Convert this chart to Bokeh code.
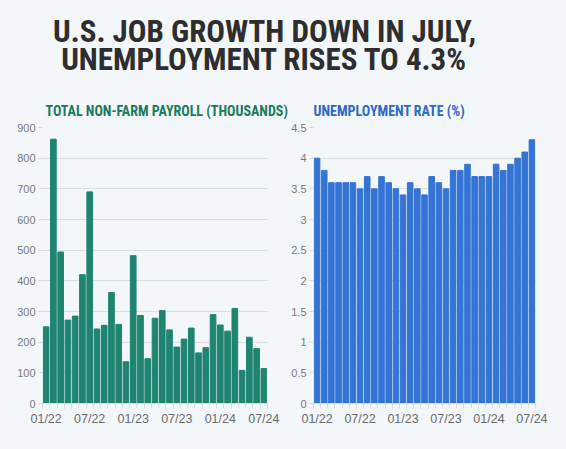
from bokeh.plotting import figure
from bokeh.layouts import column, row
from bokeh.models import Range1d, FixedTicker, ColumnDataSource
from bokeh.core.properties import value
from bokeh.embed import file_html
from bokeh.resources import INLINE

# ---- data ----
months = ["01/22","02/22","03/22","04/22","05/22","06/22","07/22","08/22","09/22","10/22","11/22","12/22",
          "01/23","02/23","03/23","04/23","05/23","06/23","07/23","08/23","09/23","10/23","11/23","12/23",
          "01/24","02/24","03/24","04/24","05/24","06/24","07/24"]
payroll = [250, 862, 494, 272, 285, 420, 690, 243, 255, 362, 258, 136,
           482, 287, 146, 278, 303, 240, 184, 210, 246, 165, 182, 290,
           256, 236, 310, 108, 216, 179, 114]
unemployment = [4.0, 3.8, 3.6, 3.6, 3.6, 3.6, 3.5, 3.7, 3.5, 3.7, 3.6, 3.5,
                3.4, 3.6, 3.5, 3.4, 3.7, 3.6, 3.5, 3.8, 3.8, 3.9, 3.7, 3.7,
                3.7, 3.9, 3.8, 3.9, 4.0, 4.1, 4.3]
x_tick_labels = ["01/22", "07/22", "01/23", "07/23", "01/24", "07/24"]
payroll_ticks = [0, 100, 200, 300, 400, 500, 600, 700, 800, 900]
rate_ticks = [0, 0.5, 1, 1.5, 2, 2.5, 3, 3.5, 4, 4.5]
main_title = ["U.S. JOB GROWTH DOWN IN JULY,", "UNEMPLOYMENT RISES TO 4.3%"]
panel_titles = ["TOTAL NON-FARM PAYROLL (THOUSANDS)", "UNEMPLOYMENT RATE (%)"]

BG = "#f4f7fa"
TITLE_FONT = "'Liberation Sans Narrow', 'Roboto Condensed', Roboto"
LABEL_FONT = "'Liberation Sans', Arial"
GREEN = "#1f8570"
BLUE = "#3474d4"

TH = 120  # header height

# ---- header figure (title + panel titles), screen-like coords ----
tf = figure(width=564, height=TH, output_backend="svg", toolbar_location=None,
            x_range=Range1d(0, 564), y_range=Range1d(TH, 0),
            min_border=0, background_fill_color=BG, border_fill_color=BG,
            outline_line_color=None)
tf.axis.visible = False
tf.grid.visible = False
tf.text(x=[264, 264], y=[31, 59], text=main_title,
        text_font=value(TITLE_FONT), text_font_size="31px", text_font_style="bold",
        text_color="#2e2e2e", text_align="center", text_baseline="middle")
tf.text(x=[45], y=[110], text=[panel_titles[0]],
        text_font=value(TITLE_FONT), text_font_size="14px", text_font_style="bold",
        text_color="#1b7a5e", text_align="left", text_baseline="middle")
tf.text(x=[313], y=[110], text=[panel_titles[1]],
        text_font=value(TITLE_FONT), text_font_size="14px", text_font_style="bold",
        text_color="#2e68c8", text_align="left", text_baseline="middle")


def make_panel(values, ticks, ymax, color, width, left, right):
    n = len(values)
    xs = list(range(n))
    src = ColumnDataSource(dict(x=xs, top=values))
    p = figure(width=width, height=327, output_backend="svg", toolbar_location=None,
               x_range=Range1d(-0.5, n - 0.5), y_range=Range1d(0, ymax),
               min_border_left=left, min_border_right=right, min_border_top=7, min_border_bottom=44,
               background_fill_color=BG, border_fill_color=BG, outline_line_color=None)
    p.vbar(x="x", top="top", width=0.78, color=color, source=src)
    # x axis
    idx = [months.index(m) for m in x_tick_labels]
    p.xaxis.ticker = FixedTicker(ticks=idx, minor_ticks=[i - 0.5 for i in range(n + 1)])
    p.xaxis.major_label_overrides = {i: m for i, m in zip(idx, x_tick_labels)}
    p.xaxis.major_tick_line_color = None
    p.xaxis.minor_tick_line_color = "#d6dbe1"
    p.xaxis.minor_tick_out = 5
    p.xaxis.minor_tick_in = 0
    p.xaxis.axis_line_color = "#d6dbe1"
    p.xaxis.major_label_text_font = LABEL_FONT
    p.xaxis.major_label_text_font_size = "12.5px"
    p.xaxis.major_label_text_color = "#6b6b6b"
    p.xaxis.major_label_standoff = 2
    # y axis
    p.yaxis.ticker = FixedTicker(ticks=ticks)
    p.yaxis.major_label_overrides = {t: (str(int(t)) if float(t).is_integer() else str(t)) for t in ticks}
    p.yaxis.axis_line_color = None
    p.yaxis.minor_tick_line_color = None
    p.yaxis.major_tick_line_color = "#d6dbe1"
    p.yaxis.major_tick_out = 4
    p.yaxis.major_tick_in = 0
    p.yaxis.major_label_text_font = LABEL_FONT
    p.yaxis.major_label_text_font_size = "11px"
    p.yaxis.major_label_text_color = "#7a7a7a"
    p.yaxis.major_label_standoff = 3
    p.xgrid.grid_line_color = None
    p.ygrid.ticker = FixedTicker(ticks=ticks)
    p.ygrid.grid_line_color = "#d9dee4"
    return p


left = make_panel(payroll, payroll_ticks, 900, GREEN, 286, 42, 19)
right = make_panel(unemployment, rate_ticks, 4.5, BLUE, 278, 27, 29)

layout = column(tf, row(left, right, spacing=0), spacing=0)

html = file_html(layout, INLINE)
html = html.replace("<head>", "<head><style>html,body{background:%s;}</style>" % BG, 1)
open("out.html", "w").write(html)
